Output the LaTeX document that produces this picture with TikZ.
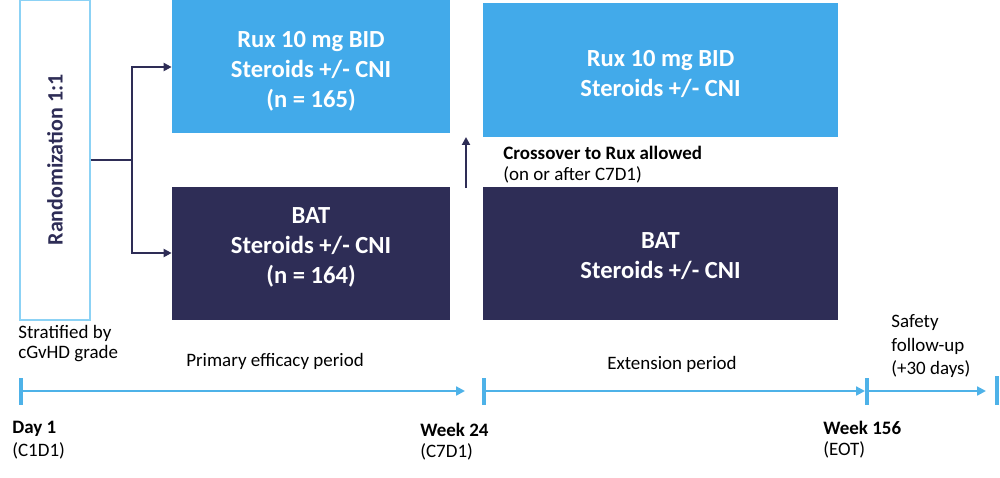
\documentclass[tikz,border=0pt]{standalone}
\usepackage{fontspec}
\setmainfont{Carlito}
\usetikzlibrary{arrows.meta}
\definecolor{lblue}{RGB}{66,170,234}
\definecolor{navy}{RGB}{46,45,86}
\definecolor{tblue}{RGB}{78,178,232}
\definecolor{rborder}{RGB}{140,210,245}
\tikzset{
  armbox/.style={draw=none, inner sep=0pt, text=white, font=\bfseries\fontsize{14}{17.2}\selectfont, align=center},
  lbl/.style={inner sep=0pt, font=\fontsize{10.8}{13}\selectfont, text=black},
  blbl/.style={inner sep=0pt, font=\bfseries\fontsize{10.8}{13}\selectfont, text=black},
  conn/.style={draw=navy, line width=1.3pt, -{Triangle[length=4.5pt,width=4.5pt]}},
  tline/.style={draw=tblue, line width=1.2pt, -{Triangle[length=5pt,width=5pt]}},
  tick/.style={draw=tblue, line width=1.8pt},
}
\begin{document}
\begin{tikzpicture}[x=0.02cm,y=-0.02cm]
\useasboundingbox (0,0) rectangle (1000,477);
% randomization box
\node[draw=rborder, line width=0.8pt, fill=white, minimum width=70*0.02cm, minimum height=320*0.02cm, inner sep=0pt] (rand) at (55,160) {};
\node[rotate=90, font=\bfseries\fontsize{12.5}{14}\selectfont, text=navy, inner sep=0pt] (randt) at (rand.center) {Randomization 1:1};
% arm boxes
\node[armbox, fill=lblue, minimum width=278*0.02cm, minimum height=133*0.02cm] (rux1) at (311,66.5) {};
\node[armbox, fill=navy, minimum width=278*0.02cm, minimum height=133*0.02cm] (bat1) at (311,253.5) {};
\node[armbox, fill=lblue, minimum width=355*0.02cm, minimum height=134*0.02cm] (rux2) at (660.5,70) {};
\node[armbox, fill=navy, minimum width=355*0.02cm, minimum height=133*0.02cm] (bat2) at (660.5,253.5) {};
\node[armbox] (rux1t) at ([yshift=-5*0.02cm]rux1.center) {Rux 10 mg BID\\Steroids +/- CNI\\(n = 165)};
\node[armbox] (bat1t) at ([yshift=6*0.02cm]bat1.center) {BAT\\Steroids +/- CNI\\(n = 164)};
\node[armbox] (rux2t) at ([yshift=-4*0.02cm]rux2.center) {Rux 10 mg BID\\Steroids +/- CNI};
\node[armbox] (bat2t) at ([yshift=-2.5*0.02cm]bat2.center) {BAT\\Steroids +/- CNI};
% connectors
\coordinate (split) at (132,160);
\draw[draw=navy, line width=1.3pt] (rand.east |- split) -- (split);
\draw[conn] (split) |- (rux1.west |- 0,67);
\draw[conn] (split) |- (bat1.west |- 0,253);
\coordinate (xa) at (466,188);
\coordinate (xb) at (466,137);
\draw[conn] (xa) -- (xb);
\node[blbl, anchor=west] (cross) at (503,153) {Crossover to Rux allowed};
\node[lbl, anchor=west] (cross2) at (503,175) {(on or after C7D1)};
% timeline
\coordinate (t0) at (21,391);
\coordinate (t1) at (465,391);
\coordinate (t2) at (484,391);
\coordinate (t3) at (865,391);
\coordinate (t4) at (867,391);
\coordinate (t5) at (986,391);
\coordinate (t6) at (997,391);
\draw[tick] ([yshift=13*0.02cm]t0) -- ([yshift=-14*0.02cm]t0);
\draw[tick] ([yshift=13*0.02cm]t2) -- ([yshift=-14*0.02cm]t2);
\draw[tick] ([yshift=13*0.02cm]t4) -- ([yshift=-14*0.02cm]t4);
\draw[tick] ([yshift=15*0.02cm]t6) -- ([yshift=-14*0.02cm]t6);
\draw[tline] (t0) -- (t1);
\draw[tline] (t2) -- (t3);
\draw[tline] (t4) -- (t5);
% labels
\node[lbl, anchor=west] (strat) at (18,333) {Stratified by};
\node[lbl, anchor=west] (strat2) at (18,354) {cGvHD grade};
\node[lbl] (prim) at (275,361) {Primary efficacy period};
\node[lbl] (ext) at (672,364) {Extension period};
\node[lbl, anchor=west] (saf1) at (891,323) {Safety};
\node[lbl, anchor=west] (saf2) at (891,346) {follow-up};
\node[lbl, anchor=west] (saf3) at (891,369) {(+30 days)};
\node[blbl, anchor=west] (d1) at (12,429) {Day 1};
\node[lbl, anchor=west] (d1b) at (12,451) {(C1D1)};
\node[blbl, anchor=west] (w24) at (420,430) {Week 24};
\node[lbl, anchor=west] (w24b) at (420,452) {(C7D1)};
\node[blbl, anchor=west] (w156) at (823,428) {Week 156};
\node[lbl, anchor=west] (w156b) at (823,450) {(EOT)};
\end{tikzpicture}
\end{document}
